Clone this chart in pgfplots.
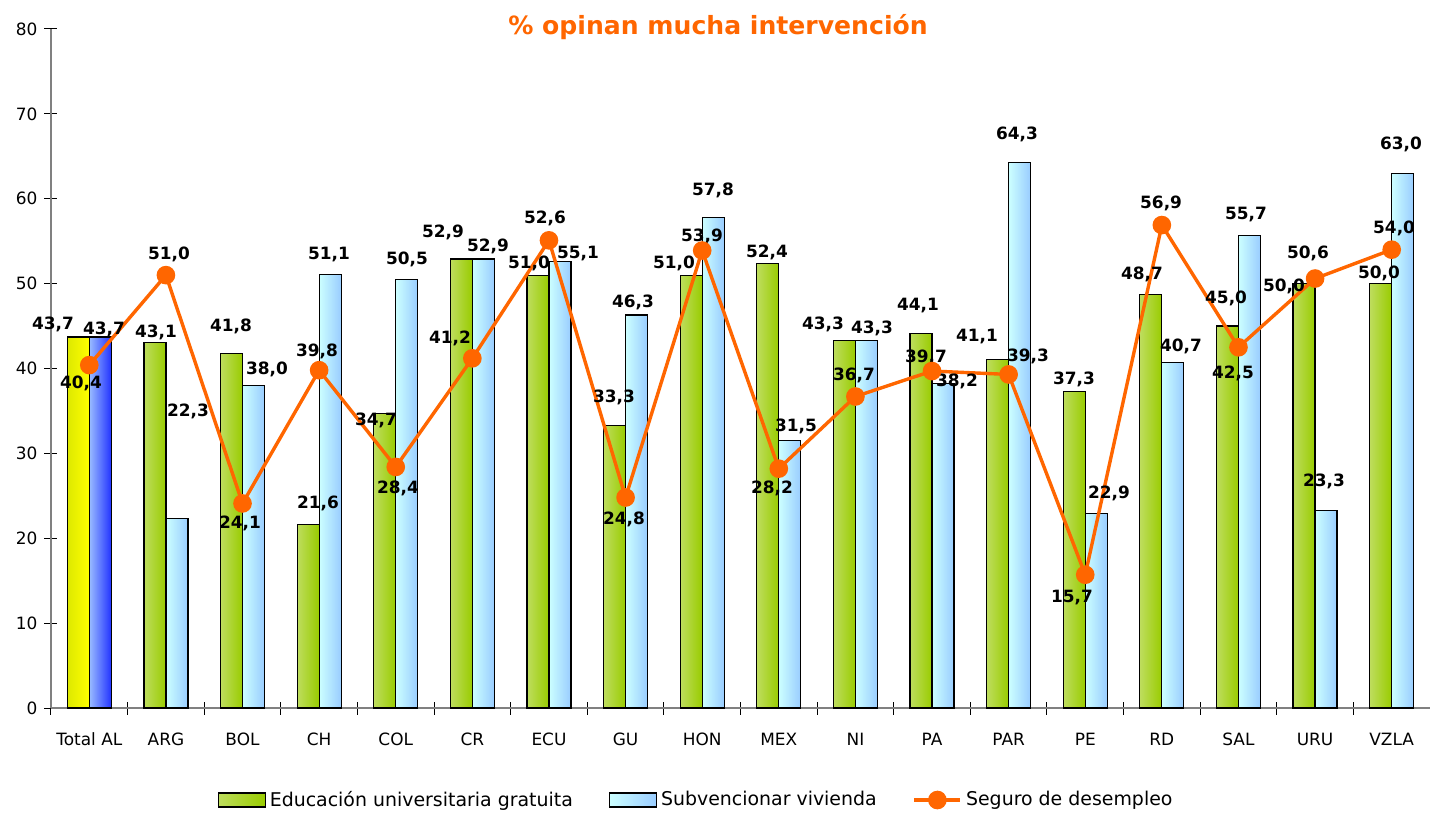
\documentclass[border=0pt]{standalone}
\usepackage{pgfplots}
\usepackage{pgfplotstable}
\pgfplotsset{compat=1.18}
\usepackage{fontspec}
\setmainfont{DejaVu Sans}

\definecolor{grnL}{HTML}{BEDD5E}
\definecolor{grnR}{HTML}{99CC00}
\definecolor{bluL}{HTML}{CCFFFF}
\definecolor{bluR}{HTML}{99CCFF}
\definecolor{yelL}{HTML}{DDE800}
\definecolor{yelR}{HTML}{FFFF00}
\definecolor{dbL}{HTML}{99BBFF}
\definecolor{dbR}{HTML}{2233FF}
\definecolor{naranja}{HTML}{FF6600}
\definecolor{ejes}{HTML}{808080}

% idx: 0 Total AL, 1 ARG ... 17 VZLA
\pgfplotstableread{
idx edu  viv  seg
0   43.7 43.7 40.4
1   43.1 22.3 51.0
2   41.8 38.0 24.1
3   21.6 51.1 39.8
4   34.7 50.5 28.4
5   52.9 52.9 41.2
6   51.0 52.6 55.1
7   33.3 46.3 24.8
8   51.0 57.8 53.9
9   52.4 31.5 28.2
10  43.3 43.3 36.7
11  44.1 38.2 39.7
12  41.1 64.3 39.3
13  37.3 22.9 15.7
14  48.7 40.7 56.9
15  45.0 55.7 42.5
16  50.0 23.3 50.6
17  50.0 63.0 54.0
}\datos

\pgfplotsset{
  barra/.style={ybar, bar width=11bp, draw=black, line width=0.6bp, forget plot},
  barlegend/.style={legend image code/.code={\draw[#1] (0bp,-3.5bp) rectangle (23.5bp,3.5bp);}},
  linelegend/.style={legend image code/.code={\draw[mark repeat=2,mark phase=2,#1] plot coordinates {(0bp,0bp) (11.5bp,0bp) (23bp,0bp)};}},
}
\tikzset{lbl/.style={font=\bfseries\fontsize{8.5}{10}\selectfont, inner sep=0pt}}
% label at picture pixel position (x,y) of the 1430x813 reference
\newcommand{\lab}[3]{\node[lbl] at (axis cs:{-0.5+(#1-51)/76.61},{(708-#2)/8.4875}) {#3};}

\begin{document}
\begin{tikzpicture}
\path[use as bounding box] (-25.5bp,-52.5bp) rectangle (689.5bp,354bp);
\begin{axis}[
  at={(0,0)}, anchor=south west,
  scale only axis, width=689.5bp, height=339.5bp,
  xmin=-0.5, xmax=17.5, ymin=0, ymax=80,
  axis x line=bottom, axis y line=left,
  x axis line style={-, draw=ejes, line width=1bp},
  y axis line style={-, draw=ejes, line width=0.6bp},
  ytick={0,10,...,80},
  xtick={-0.5,0.5,...,17.5}, xticklabels={},
  extra x ticks={0,1,...,17},
  extra x tick labels={Total AL,ARG,BOL,CH,COL,CR,ECU,GU,HON,MEX,NI,PA,PAR,PE,RD,SAL,URU,VZLA},
  extra x tick style={major tick length=0pt, tick label style={yshift=-9bp}},
  tick align=center, major tick length=6.5bp,
  tick style={black, line width=0.5bp},
  tick label style={font=\fontsize{8.5}{10}\selectfont},
  /pgf/number format/assume math mode=true,
  clip=false,
  legend columns=3,
  legend style={at={(0.4685,-0.1355)}, anchor=center, draw=none, fill=none,
    font=\fontsize{9.5}{11}\selectfont,
    /tikz/every even column/.append style={column sep=16bp}},
  legend cell align=left,
]
% one bar per path so that each bar gets its own shading
\pgfplotsinvokeforeach{1,...,17}{
  \addplot[barra, bar shift=-5.5bp, left color=grnL, right color=grnR,
    restrict x to domain=#1:#1] table[x=idx, y=edu] {\datos};
  \addplot[barra, bar shift=5.5bp, left color=bluL, right color=bluR,
    restrict x to domain=#1:#1] table[x=idx, y=viv] {\datos};
}
% Total AL
\addplot[barra, bar shift=-5.5bp, left color=yelL, right color=yelR,
  restrict x to domain=0:0] table[x=idx, y=edu] {\datos};
\addplot[barra, bar shift=5.5bp, left color=dbL, right color=dbR,
  restrict x to domain=0:0] table[x=idx, y=viv] {\datos};

\addlegendimage{barlegend, draw=black, line width=0.6bp, left color=grnL, right color=grnR}
\addlegendentry{Educación universitaria gratuita}
\addlegendimage{barlegend, draw=black, line width=0.6bp, left color=bluL, right color=bluR}
\addlegendentry{Subvencionar vivienda}

% Seguro de desempleo
\addplot[naranja, line width=1.7bp, mark=*, mark size=3.8bp,
  mark options={fill=naranja, draw=naranja}, linelegend]
  table[x=idx, y=seg] {\datos};
\addlegendentry{Seguro de desempleo}

% data labels
\lab{53}{324}{43,7} \lab{104}{329}{43,7} \lab{81}{383}{40,4}
\lab{156}{332}{43,1} \lab{169}{254}{51,0} \lab{188}{411}{22,3}
\lab{231}{326}{41,8} \lab{267}{369}{38,0} \lab{240}{523}{24,1}
\lab{318}{503}{21,6} \lab{329}{255}{51,1} \lab{317}{351}{39,8}
\lab{376}{420}{34,7} \lab{407}{259}{50,5} \lab{398}{488}{28,4}
\lab{443}{232}{52,9} \lab{488}{246}{52,9} \lab{450}{338}{41,2}
\lab{529}{263}{51,0} \lab{578}{254}{55,1} \lab{545}{218}{52,6}
\lab{614}{397}{33,3} \lab{633}{302}{46,3} \lab{624}{519}{24,8}
\lab{674}{263}{51,0} \lab{713}{190}{57,8} \lab{702}{236}{53,9}
\lab{767}{252}{52,4} \lab{796}{426}{31,5} \lab{772}{488}{28,2}
\lab{823}{324}{43,3} \lab{872}{328}{43,3} \lab{854}{375}{36,7}
\lab{918}{306}{44,1} \lab{957}{381}{38,2} \lab{926}{357}{39,7}
\lab{977}{337}{41,1} \lab{1017}{134}{64,3} \lab{1028}{356}{39,3}
\lab{1074}{379}{37,3} \lab{1109}{493}{22,9} \lab{1072}{598}{15,7}
\lab{1142}{274}{48,7} \lab{1181}{346}{40,7} \lab{1161}{203}{56,9}
\lab{1226}{298}{45,0} \lab{1246}{215}{55,7} \lab{1233}{373}{42,5}
\lab{1284}{286}{50,0} \lab{1324}{481}{23,3} \lab{1308}{253}{50,6}
\lab{1379}{273}{50,0} \lab{1401}{144}{63,0} \lab{1394}{228}{54,0}

% title
\node[font=\bfseries\fontsize{12.6}{15}\selectfont, text=naranja] at (axis cs:{-0.5+(718-51)/76.61},{(708-27)/8.4875}) {\% opinan mucha intervención};
\end{axis}
\end{tikzpicture}
\end{document}
